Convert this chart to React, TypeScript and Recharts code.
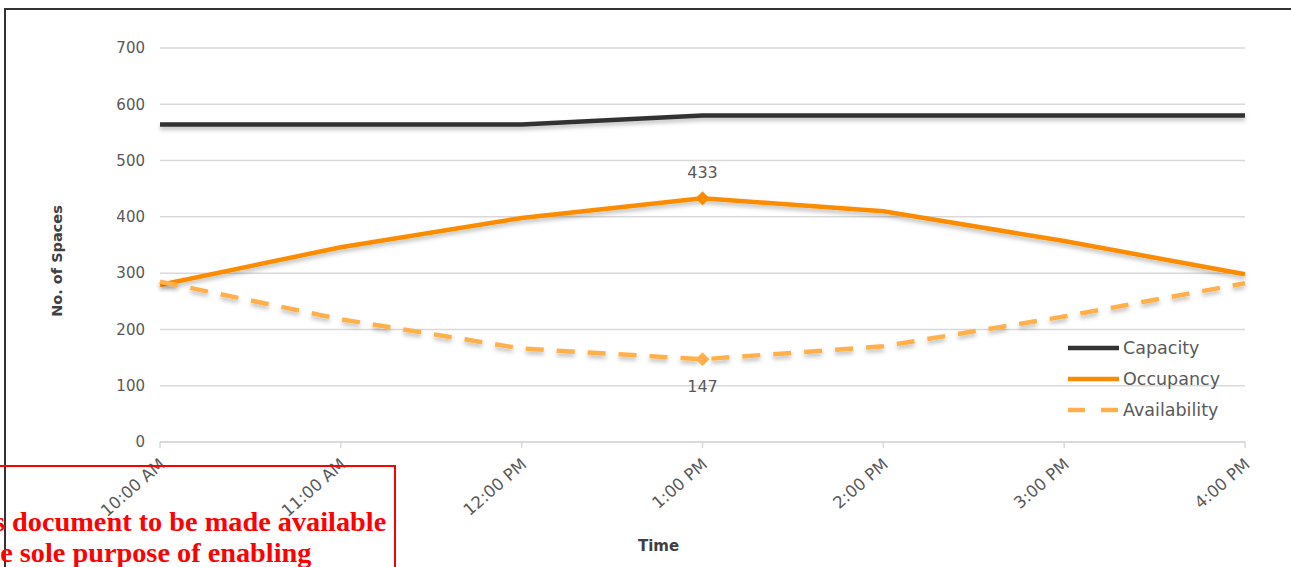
import React from 'react';
import { LineChart, Line, XAxis, YAxis, CartesianGrid } from 'recharts';

const times = ['10:00 AM', '11:00 AM', '12:00 PM', '1:00 PM', '2:00 PM', '3:00 PM', '4:00 PM'];
const capacity = [564, 564, 564, 580, 580, 580, 580];
const occupancy = [279, 346, 398, 433, 410, 357, 298];
const availability = [285, 218, 166, 147, 170, 223, 282];
const yTicks = [0, 100, 200, 300, 400, 500, 600, 700];
const seriesNames = ['Capacity', 'Occupancy', 'Availability'];
const labelledIndex = 3;

const data = times.map((t, i) => ({
  time: t,
  Capacity: capacity[i],
  Occupancy: occupancy[i],
  Availability: availability[i],
}));

const FONT = '"DejaVu Sans", sans-serif';
const GREY = '#595959';
const C_CAP = '#333333';
const C_OCC = '#fb8c00';
const C_AV = '#ffb04c';

const XTick = (props: any) => {
  const { x, y, payload } = props;
  const tx = x + 6;
  const ty = y + 18;
  return (
    <text
      x={tx}
      y={ty}
      transform={`rotate(-41, ${tx}, ${ty})`}
      textAnchor="end"
      fontSize={16.5}
      fontFamily={FONT}
      fill={GREY}
    >
      {payload.value}
    </text>
  );
};

const diamond = (color: string) => (props: any) => {
  const { cx, cy, index } = props;
  if (index !== labelledIndex) return <g key={`d${index}`} />;
  const r = 7;
  return (
    <path
      key={`d${index}`}
      d={`M${cx},${cy - r}L${cx + r},${cy}L${cx},${cy + r}L${cx - r},${cy}Z`}
      fill={color}
    />
  );
};

const valueLabel = (dy: number) => (props: any) => {
  const { x, y, index, value } = props;
  if (index !== labelledIndex) return <g key={`l${index}`} />;
  return (
    <text key={`l${index}`} x={x} y={y + dy} textAnchor="middle" fontSize={16} fontFamily={FONT} fill={GREY}>
      {value}
    </text>
  );
};

const LegendBox = () => {
  const colors = [C_CAP, C_OCC, C_AV];
  const dashes = [undefined, undefined, '17 16'];
  return (
    <svg width={220} height={95} style={{ display: 'block' }}>
      {seriesNames.map((name, i) => (
        <g key={name}>
          <line
            x1={0}
            x2={51}
            y1={12 + i * 31}
            y2={12 + i * 31}
            stroke={colors[i]}
            strokeWidth={4.5}
            strokeDasharray={dashes[i]}
          />
          <text x={55} y={12 + i * 31} dy="0.35em" fontSize={17.5} fontFamily={FONT} fill={GREY}>
            {name}
          </text>
        </g>
      ))}
    </svg>
  );
};

const YLabel = (props: any) => {
  const { viewBox } = props;
  const cx = viewBox.x + 37;
  const cy = viewBox.y + viewBox.height / 2 + 16;
  return (
    <text
      x={cx}
      y={cy}
      transform={`rotate(-90, ${cx}, ${cy})`}
      textAnchor="middle"
      dominantBaseline="central"
      fontSize={14.5}
      fontWeight="bold"
      fontFamily={FONT}
      fill="#404040"
    >
      No. of Spaces
    </text>
  );
};

const XLabel = (props: any) => {
  const { viewBox } = props;
  const cx = viewBox.x + viewBox.width / 2 - 44;
  return (
    <text
      x={cx}
      y={551}
      textAnchor="middle"
      fontSize={15}
      fontWeight="bold"
      fontFamily={FONT}
      fill="#404040"
    >
      Time
    </text>
  );
};

const redText: React.CSSProperties = {
  position: 'absolute',
  whiteSpace: 'nowrap',
  fontFamily: '"Liberation Serif", "Times New Roman", serif',
  fontWeight: 'bold',
  fontSize: 28.3,
  lineHeight: '28px',
  color: '#ff0000',
};

export default function App() {
  return (
    <div
      style={{
        position: 'fixed',
        left: 0,
        top: 0,
        width: 1291,
        height: 567,
        overflow: 'hidden',
        background: '#fff',
      }}
    >
      <div
        style={{
          position: 'absolute',
          left: 4,
          top: 8,
          width: 1400,
          height: 700,
          border: '2px solid #333',
          boxSizing: 'border-box',
        }}
      />
      <div style={{ position: 'absolute', left: 0, top: 0 }}>
        <LineChart width={1291} height={567} data={data} margin={{ top: 48, right: 46, bottom: 15, left: 20 }}>
          <defs>
            <filter id="lineShadow" filterUnits="userSpaceOnUse" x={0} y={0} width={1291} height={567}>
              <feDropShadow dx={0} dy={3} stdDeviation={2} floodColor="#000" floodOpacity={0.25} />
            </filter>
          </defs>
          <CartesianGrid vertical={false} stroke="#d9d9d9" strokeWidth={1.5} />
          <XAxis
            dataKey="time"
            stroke="#d9d9d9"
            strokeWidth={1.5}
            tickSize={6}
            tickMargin={0}
            height={110}
            interval={0}
            tick={<XTick />}
            label={<XLabel />}
          />
          <YAxis
            domain={[0, 700]}
            ticks={yTicks}
            width={140}
            axisLine={false}
            tickLine={false}
            tickSize={0}
            tickMargin={15}
            tick={{ fontSize: 15, fontFamily: FONT, fill: GREY }}
            label={<YLabel />}
          />
          <Line
            type="linear"
            dataKey="Capacity"
            stroke={C_CAP}
            strokeWidth={4.5}
            dot={false}
            filter="url(#lineShadow)"
            isAnimationActive={false}
          />
          <Line
            type="linear"
            dataKey="Occupancy"
            stroke={C_OCC}
            strokeWidth={4.5}
            dot={diamond(C_OCC)}
            label={valueLabel(-20)}
            filter="url(#lineShadow)"
            isAnimationActive={false}
          />
          <Line
            type="linear"
            dataKey="Availability"
            stroke={C_AV}
            strokeWidth={4.5}
            strokeDasharray="18 13"
            dot={diamond(C_AV)}
            label={valueLabel(33)}
            filter="url(#lineShadow)"
            isAnimationActive={false}
          />
        </LineChart>
      </div>
      <div style={{ position: 'absolute', left: 1068, top: 336 }}>
        <LegendBox />
      </div>
      <div
        style={{
          position: 'absolute',
          left: -10,
          top: 465,
          width: 406,
          height: 200,
          border: '2px solid #ff0000',
          boxSizing: 'border-box',
        }}
      />
      <div style={{ ...redText, left: -39, top: 508 }}>this document to be made available</div>
      <div style={{ ...redText, left: -25, top: 539 }}>the sole purpose of enabling</div>
    </div>
  );
}
